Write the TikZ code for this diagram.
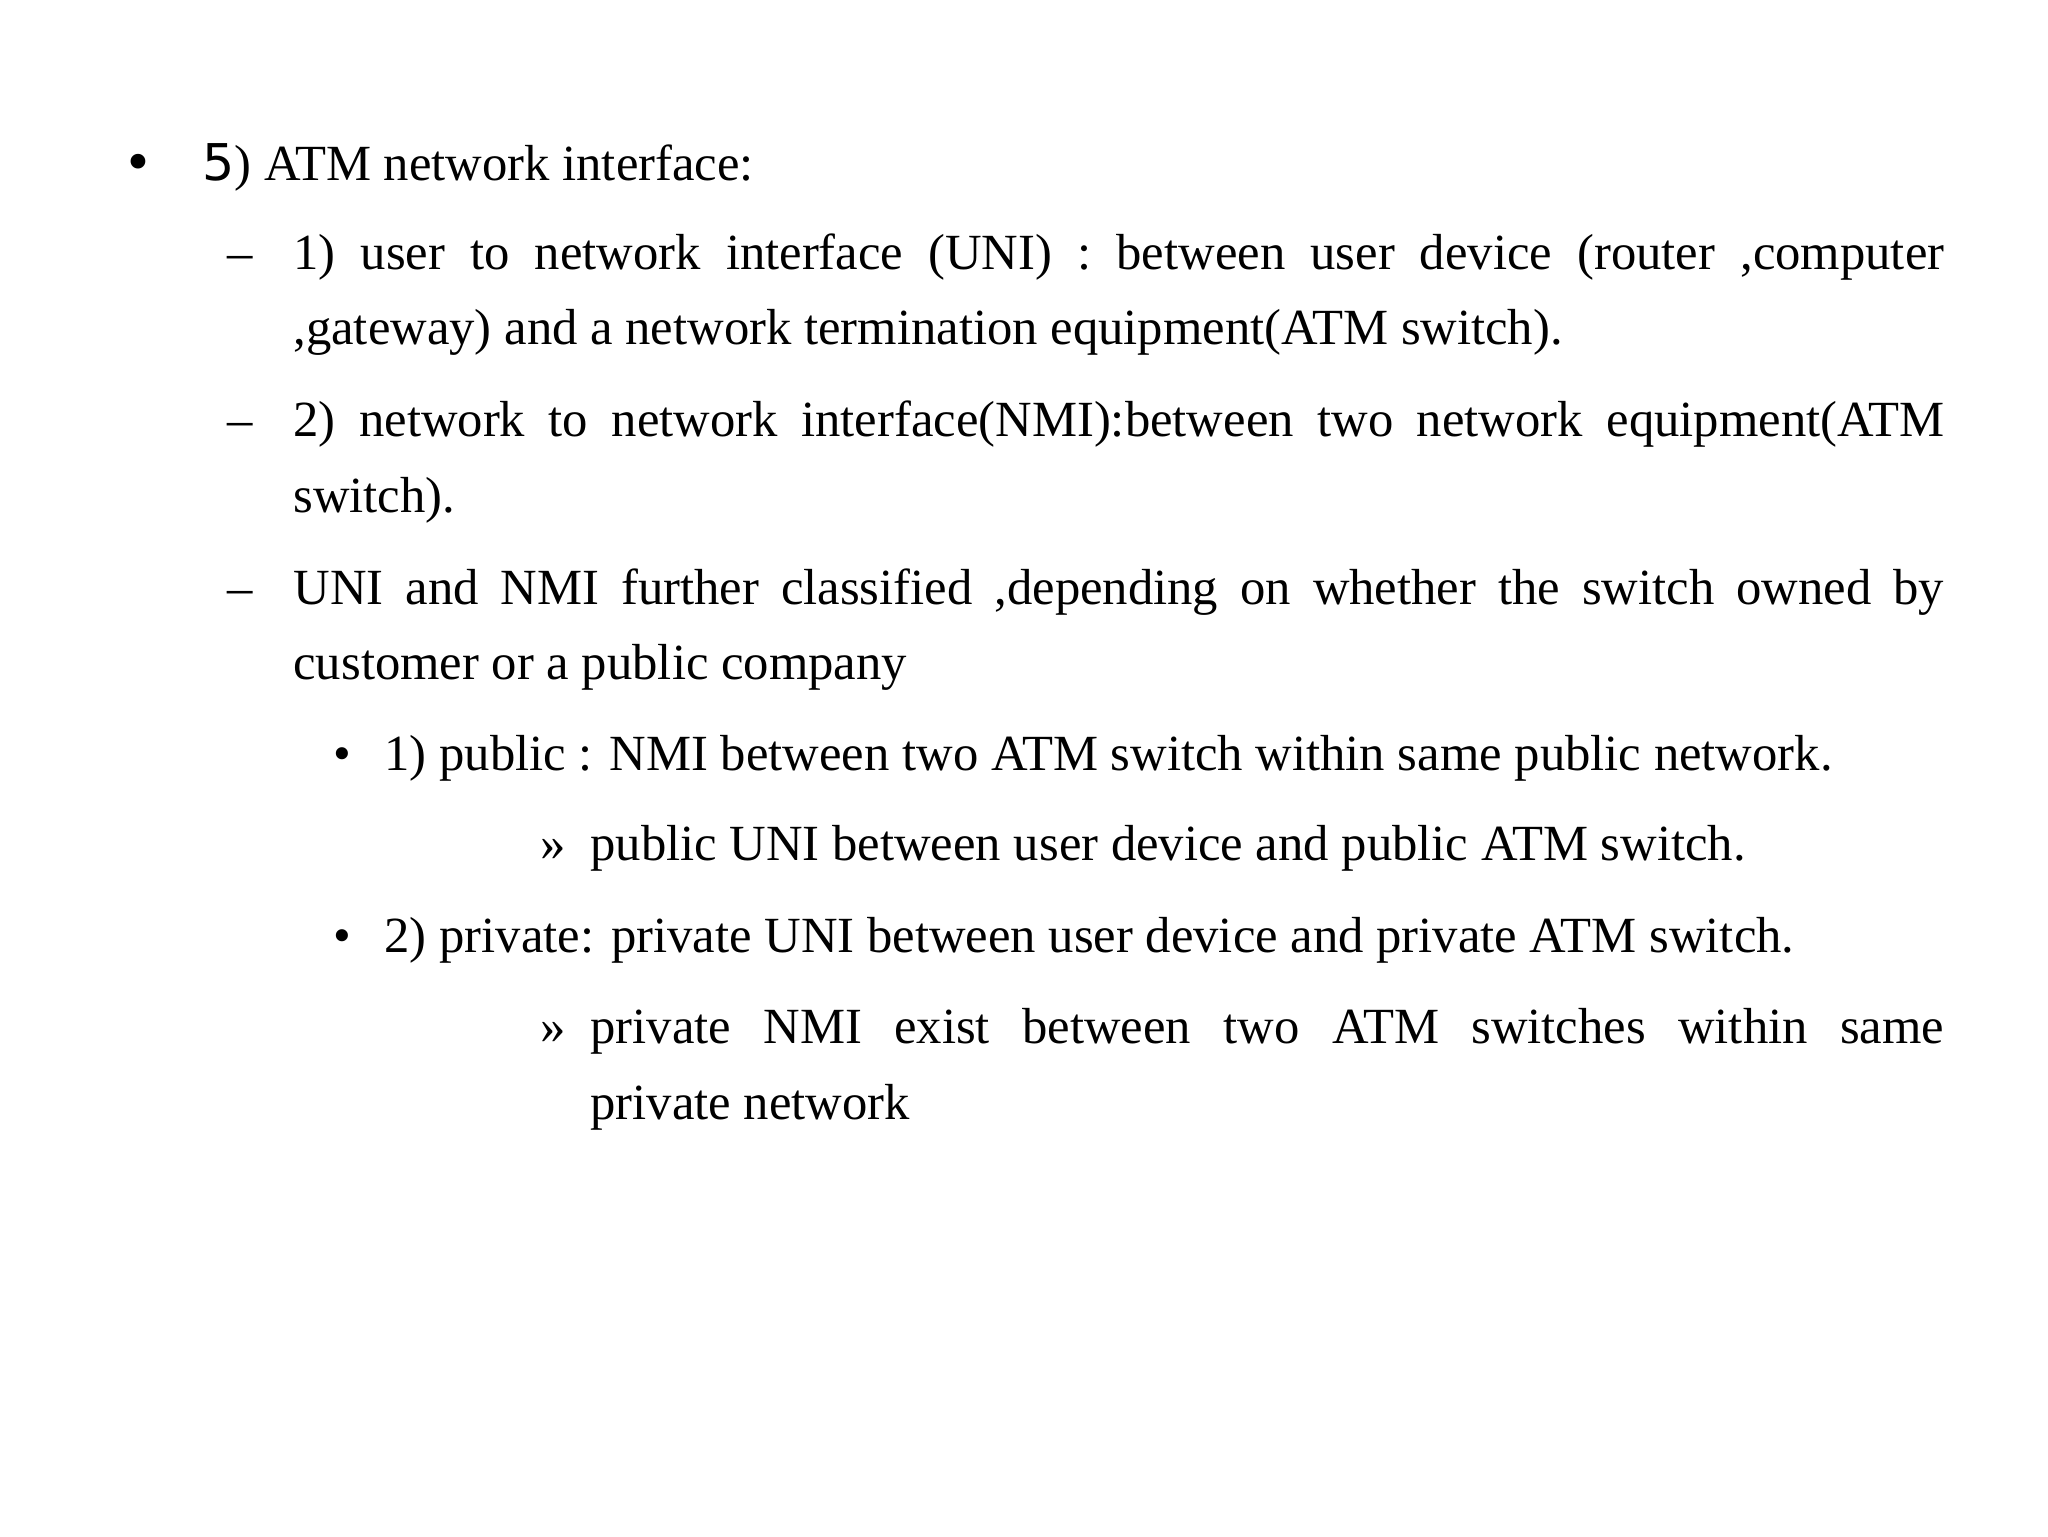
\documentclass[tikz,border=0pt]{standalone}
\usepackage{fontspec}
\setmainfont{Liberation Serif}
\newfontfamily\dvs{DejaVu Sans}
\begin{document}
\begin{tikzpicture}[x=0.5pt,y=-0.5pt,
  txt/.style={anchor=base west,inner sep=0pt,font=\fontsize{19.2pt}{28pt}\selectfont},
  mark/.style={txt}]
\useasboundingbox (0,0) rectangle (1552,1164);
\newcommand{\jl}[1]{\makebox[625.5pt][s]{#1}}
\node[txt] (b1) at (93,137) {\dvs •};
\node[txt] (l1) at (153,137) {{\dvs 5}) ATM network interface:};
\node[txt] (d1) at (172,204) {–};
\node[txt] (l2) at (222,204) {\jl{1) user to network interface (UNI) : between user device (router ,computer}};
\node[txt] (l3) at (222,261) {,gateway) and a network termination equipment(ATM switch).};
\node[txt] (d2) at (172,331) {–};
\node[txt] (l4) at (222,331) {\jl{2) network to network interface(NMI):between two network equipment(ATM}};
\node[txt] (l5) at (222,388) {switch).};
\node[txt] (d3) at (172,458) {–};
\node[txt] (l6) at (222,458) {\jl{UNI and NMI further classified ,depending on whether the switch owned by}};
\node[txt] (l7) at (222,515) {customer or a public company};
\node[txt] (b2) at (252,584) {•};
\node[txt] (l8) at (291,584) {1) public : NMI between two ATM switch within same public network.};
\node[txt] (r1) at (409,652) {»};
\node[txt] (l9) at (447,652) {public UNI between user device and public ATM switch.};
\node[txt] (b3) at (252,722) {•};
\node[txt] (l10) at (291,722) {2) private: private UNI between user device and private ATM switch.};
\node[txt] (r2) at (409,791) {»};
\node[txt] (l11) at (447,791) {\makebox[513pt][s]{private NMI exist between two ATM switches within same}};
\node[txt] (l12) at (447,848) {private network};
\end{tikzpicture}
\end{document}
